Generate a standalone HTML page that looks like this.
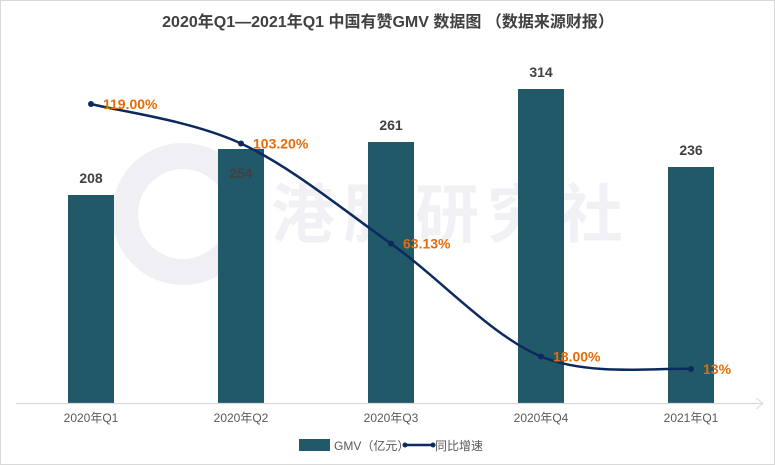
<!DOCTYPE html>
<html><head><meta charset="utf-8"><style>
html,body{margin:0;padding:0;background:#fff;}
#wrap{position:relative;width:773px;height:463px;border:1px solid #d9d9d9;overflow:hidden;font-family:"Liberation Sans","Noto Sans CJK SC",sans-serif;}
</style></head><body>
<div id="wrap">
<svg id="chart" width="773" height="463" xmlns="http://www.w3.org/2000/svg">
<text x="387" y="26" text-anchor="middle" font-size="16" font-weight="bold" fill="#404040" font-family="Liberation Sans, Noto Sans CJK SC, sans-serif">2020年Q1—2021年Q1 中国有赞GMV 数据图 （数据来源财报）</text>
<g opacity="0.45">
<circle cx="182" cy="213" r="58" fill="none" stroke="#dcdce6" stroke-width="26"/>
<text x="270" y="236" font-size="64" font-weight="bold" fill="#e2e2ea" letter-spacing="8" font-family="Noto Sans CJK SC, sans-serif">港股研究社</text>
</g>
<g id="bars"></g>
<g id="axis"></g>
<g id="line"></g>
<g>
<rect x="298" y="438" width="31" height="12" fill="#215968"/>
<text x="333" y="449" font-size="12" fill="#595959" font-family="Liberation Sans, Noto Sans CJK SC, sans-serif">GMV（亿元）</text>
<line x1="403" y1="444" x2="433" y2="444" stroke="#0d2a5e" stroke-width="2.5"/>
<circle cx="404" cy="444" r="2.5" fill="#0d2a5e"/><circle cx="432" cy="444" r="2.5" fill="#0d2a5e"/>
<text x="434" y="449" font-size="12" fill="#595959" font-family="Liberation Sans, Noto Sans CJK SC, sans-serif">同比增速</text>
</g>
</svg>
</div>
<script>
const categories = ["2020年Q1","2020年Q2","2020年Q3","2020年Q4","2021年Q1"];
const gmvValues = [208, 254, 261, 314, 236];
const growthValues = [119.00, 103.20, 63.13, 18.00, 13];
const growthLabels = ["119.00%","103.20%","63.13%","18.00%","13%"];

const NS="http://www.w3.org/2000/svg";
const baseY=402;
const xPos=i=>90+i*150;
const yBar=v=>baseY-v*1.0;
const yLine=v=>400.5-v*2.5;
const labelInside=[false,true,false,false,false];
function mk(tag,attrs,parent){const e=document.createElementNS(NS,tag);for(const k in attrs)e.setAttribute(k,attrs[k]);parent.appendChild(e);return e;}
const bars=document.getElementById('bars'),axis=document.getElementById('axis'),line=document.getElementById('line');
const FF="Liberation Sans, Noto Sans CJK SC, sans-serif";
gmvValues.forEach((v,i)=>{
  const r=mk('rect',{x:xPos(i)-23,y:yBar(v),width:46,height:baseY-yBar(v),fill:'#215968'},bars);
  
  
  const ly=labelInside[i]?yBar(v)+29:yBar(v)-12;
  const t=mk('text',{x:xPos(i),y:ly,'text-anchor':'middle','font-size':14,'font-weight':'bold',fill:'#404040','font-family':FF},bars);
  t.textContent=v;
  
  
});
const ax=mk('line',{x1:15,y1:baseY+0.5,x2:762,y2:baseY+0.5,stroke:'#d9d9d9','stroke-width':1.2},axis);


const ar=mk('path',{d:'M755 397 L762 402.5 L755 408',fill:'none',stroke:'#d9d9d9','stroke-width':1},axis);


categories.forEach((c,i)=>{
  const t=mk('text',{x:xPos(i),y:421,'text-anchor':'middle','font-size':12,fill:'#595959','font-family':FF},axis);
  t.textContent=c;
  
  
});
const pts=growthValues.map((v,i)=>[xPos(i),yLine(v)]);
let d='M'+pts[0][0]+' '+pts[0][1];
for(let i=0;i<pts.length-1;i++){
  const p0=pts[Math.max(0,i-1)],p1=pts[i],p2=pts[i+1],p3=pts[Math.min(pts.length-1,i+2)];
  const c1=[p1[0]+(p2[0]-p0[0])/6,p1[1]+(p2[1]-p0[1])/6];
  const c2=[p2[0]-(p3[0]-p1[0])/6,p2[1]-(p3[1]-p1[1])/6];
  d+=` C${c1[0]} ${c1[1]} ${c2[0]} ${c2[1]} ${p2[0]} ${p2[1]}`;
}
const path=mk('path',{d:d,fill:'none',stroke:'#0d2a5e','stroke-width':2.5},line);


pts.forEach((p,i)=>{
  const c=mk('circle',{cx:p[0],cy:p[1],r:3,fill:'#0d2a5e'},line);
  
  
  const t=mk('text',{x:p[0]+12,y:p[1]+5,'font-size':14,'font-weight':'bold',fill:'#e46c0a','font-family':FF},line);
  t.textContent=growthLabels[i];
  
  
});
</script>
</body></html>
